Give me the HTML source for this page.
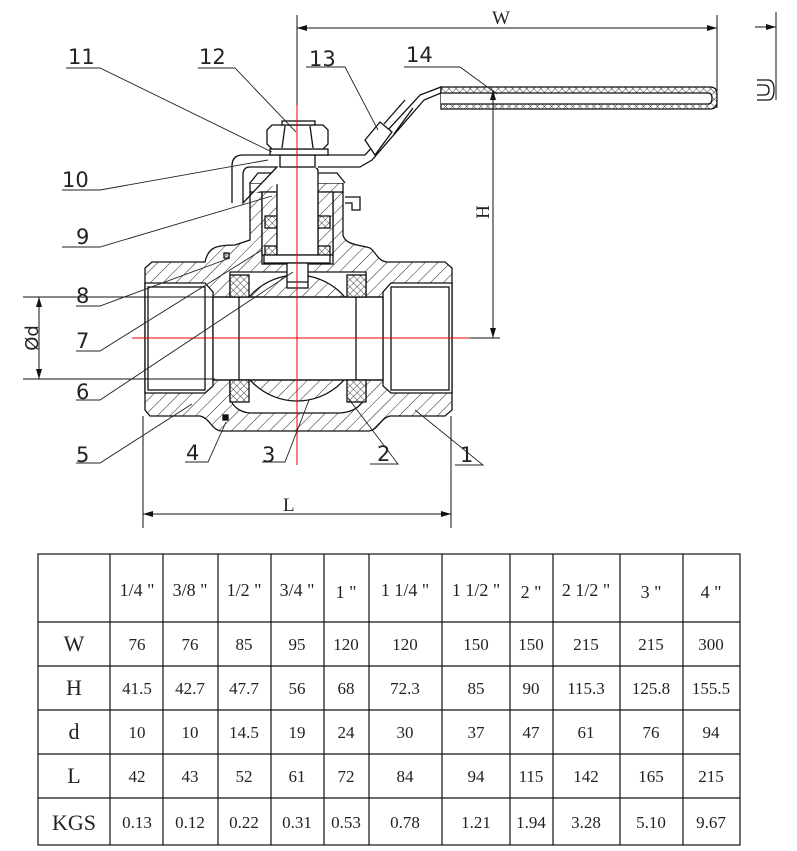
<!DOCTYPE html>
<html><head><meta charset="utf-8"><style>
html,body{margin:0;padding:0;background:#fff;}
svg{display:block;}
.l{font-family:"DejaVu Sans","Liberation Sans",sans-serif;font-size:21px;fill:#222;}
.t{font-family:"Liberation Serif",serif;font-size:17px;fill:#222;}
</style></head><body>
<svg width="797" height="851" viewBox="0 0 797 851" xmlns="http://www.w3.org/2000/svg">
<defs>
<pattern id="h" patternUnits="userSpaceOnUse" width="9" height="9" patternTransform="rotate(45)">
<rect width="9" height="9" fill="#fff"/><line x1="0" y1="0" x2="0" y2="9" stroke="#222" stroke-width="1"/></pattern>
<pattern id="x" patternUnits="userSpaceOnUse" width="5" height="5" patternTransform="rotate(45)">
<rect width="5" height="5" fill="#fff"/><line x1="0" y1="0" x2="0" y2="5" stroke="#111" stroke-width="0.8"/><line x1="0" y1="0" x2="5" y2="0" stroke="#111" stroke-width="0.8"/></pattern>
<clipPath id="ballc"><rect x="239" y="250" width="117" height="160"/></clipPath>
</defs>
<g stroke="#111" stroke-width="1.3" fill="none">
<path d="M145,268 L152,262 L205,262 C208,248 215,245 235,245 L250,240 L250,192 L343,192 L343,235 C345,245 360,245 370,248 C376,252 378,262 388,262 L445,262 L452,268 L452,410 L445,416 L390,416 C380,418 378,431 368,431 L222,431 C212,431 210,418 200,416 L150,416 L145,410 Z" fill="url(#h)"/>
<path d="M145,283 L205,283 L213,292 L213,386 L205,393 L145,393 Z" fill="#fff"/>
<rect x="148" y="287" width="57" height="103"/>
<path d="M452,283 L391,283 L383,292 L383,386 L391,393 L452,393 Z" fill="#fff"/>
<rect x="391" y="287" width="58" height="103"/>
<path d="M230,272 L366,272 L366,398 C360,405 356,412 340,413 L250,413 C238,412 232,405 230,398 Z" fill="#fff"/>
<circle cx="297" cy="338" r="63" fill="url(#h)" clip-path="url(#ballc)"/>
<rect x="213" y="297" width="170" height="83" fill="#fff"/>
<line x1="239" y1="297" x2="239" y2="380"/><line x1="356" y1="297" x2="356" y2="380"/>
<line x1="213" y1="297" x2="383" y2="297"/><line x1="213" y1="380" x2="383" y2="380"/>
<rect x="230" y="275" width="19" height="22" fill="url(#x)"/>
<rect x="347" y="275" width="19" height="22" fill="url(#x)"/>
<rect x="230" y="380" width="19" height="22" fill="url(#x)"/>
<rect x="347" y="380" width="19" height="22" fill="url(#x)"/>
<rect x="223" y="415" width="5" height="5" fill="#111"/>
<rect x="224" y="253" width="5" height="5" fill="url(#x)"/>
<rect x="262" y="192" width="71" height="72" fill="#fff"/>
<path d="M250,183 L343,183 L343,192 L250,192 Z" fill="url(#h)"/>
<path d="M262,192 L277,192 L277,255 L262,255 Z M318,192 L333,192 L333,255 L318,255 Z" fill="url(#h)"/>
<rect x="265" y="216" width="12" height="12" fill="url(#x)"/><rect x="318" y="216" width="12" height="12" fill="url(#x)"/>
<rect x="265" y="246" width="12" height="9" fill="url(#x)"/><rect x="318" y="246" width="12" height="9" fill="url(#x)"/>
<path d="M250,183 L258,173 L337,173 L345,183" fill="#fff"/>
<path d="M277,255 L277,172 Q277,167 282,167 L313,167 Q318,167 318,172 L318,255 Z" fill="#fff"/>
<rect x="264" y="255" width="66" height="8" fill="#fff"/>
<rect x="287" y="263" width="21" height="25" fill="#fff"/>
<line x1="287" y1="282" x2="308" y2="282"/>
<path d="M232,203 L232,166 Q232,155 243,155 L365,155 L420,95 L441,87 L441,93 L424,100 L372,160 L360,167 L318,167 M277,167 L250,167 Q243,167 243,175 L243,203 Z" fill="#fff"/>
<rect x="280" y="155" width="35" height="12" fill="#fff"/>
<path d="M345,197 L360,197 L360,210 L352,210 L352,203 L345,203" />
<path d="M365,140 L380,122 L392,132 L375,155 Z" fill="#fff"/>
<path d="M384,124 L405,100 M394,134 L413,108"/>
<rect x="270" y="149" width="58" height="6" fill="#fff"/>
<path d="M267,130 L272,125 L323,125 L328,130 L328,144 L323,149 L272,149 L267,144 Z" fill="#fff"/>
<line x1="285" y1="126" x2="282" y2="148"/><line x1="310" y1="126" x2="313" y2="148"/>
<rect x="282" y="121" width="33" height="4" fill="#fff"/>
<path d="M441,87 L710,87 Q717,87 717,94 L717,102 Q717,109 710,109 L441,109 Z" fill="url(#x)"/>
<path d="M441,93 L708,93 Q712,93 712,98 Q712,104 708,104 L441,104" fill="#fff"/>
<path d="M757,80 L768,80 Q774,80 774,90 Q774,100 768,100 L757,100 M757,85 L764,85 Q769,85 769,90 Q769,95 764,95 L757,95"/>
</g>
<line x1="297" y1="105" x2="297" y2="465" stroke="#e00" stroke-width="1"/>
<line x1="132" y1="338" x2="470" y2="338" stroke="#e00" stroke-width="1"/>
<g stroke="#111" stroke-width="1" fill="none">
<line x1="297" y1="15" x2="297" y2="105"/>
<line x1="717" y1="15" x2="717" y2="108"/>
<line x1="297" y1="28" x2="717" y2="28"/>
<line x1="776" y1="12" x2="776" y2="100"/>
<line x1="755" y1="27" x2="776" y2="27"/>
<line x1="493" y1="90" x2="493" y2="338"/>
<line x1="470" y1="338" x2="500" y2="338"/>
<line x1="23" y1="297" x2="215" y2="297"/>
<line x1="23" y1="379" x2="215" y2="379"/>
<line x1="39" y1="297" x2="39" y2="379"/>
<line x1="143" y1="416" x2="143" y2="528"/>
<line x1="451" y1="416" x2="451" y2="528"/>
<line x1="143" y1="514" x2="451" y2="514"/>
</g>
<g fill="#111">
<path d="M297,28 l10,-3 v6z M717,28 l-10,-3 v6z M776,27 l-10,-3 v6z M493,90 l-3,10 h6z M493,338 l-3,-10 h6z M39,297 l-3,10 h6z M39,379 l-3,-10 h6z M143,514 l10,-3 v6z M451,514 l-10,-3 v6z"/>
</g>
<g class="t" style="font-size:19px">
<text x="492" y="24">W</text>
<text x="283" y="511">L</text>
<text transform="translate(489,212) rotate(-90)" text-anchor="middle">H</text>
<text transform="translate(38,338) rotate(-90)" text-anchor="middle" style="font-family:'DejaVu Sans',sans-serif;font-size:18px">Ød</text>
</g>
<g stroke="#222" stroke-width="0.9" fill="none">
<path d="M66,68 H100 L272,152"/><path d="M198,68 H235 L296,132"/><path d="M306,67 H345 L378,130"/><path d="M404,67 H460 L497,94"/>
<path d="M62,190 H100 L268,160"/><path d="M62,247 H100 L272,196"/><path d="M76,306 H100 L230,258"/><path d="M76,351 H100 L262,250"/>
<path d="M76,400 H100 L293,272"/><path d="M76,463 H100 L192,404"/><path d="M185,462 H208 L226,422"/><path d="M262,462 H285 L309,400"/>
<path d="M370,464 H398 L348,398"/><path d="M455,465 H483 L415,410"/>
</g>
<g class="l">
<text x="68" y="64">11</text><text x="199" y="64">12</text><text x="309" y="66">13</text><text x="406" y="62">14</text>
<text x="62" y="187">10</text><text x="76" y="244">9</text><text x="76" y="303">8</text><text x="76" y="348">7</text>
<text x="76" y="399">6</text><text x="76" y="462">5</text><text x="186" y="460">4</text><text x="262" y="462">3</text>
<text x="377" y="461">2</text><text x="460" y="462">1</text>
</g>
<g stroke="#111" stroke-width="1.2" fill="none">
<rect x="38" y="554" width="702" height="291"/>
<line x1="38" y1="622" x2="740" y2="622"/><line x1="38" y1="666" x2="740" y2="666"/><line x1="38" y1="710" x2="740" y2="710"/><line x1="38" y1="754" x2="740" y2="754"/><line x1="38" y1="798" x2="740" y2="798"/>
<line x1="110" y1="554" x2="110" y2="845"/><line x1="163" y1="554" x2="163" y2="845"/><line x1="218" y1="554" x2="218" y2="845"/><line x1="271" y1="554" x2="271" y2="845"/><line x1="324" y1="554" x2="324" y2="845"/><line x1="369" y1="554" x2="369" y2="845"/><line x1="442" y1="554" x2="442" y2="845"/><line x1="510" y1="554" x2="510" y2="845"/><line x1="553" y1="554" x2="553" y2="845"/><line x1="620" y1="554" x2="620" y2="845"/><line x1="683" y1="554" x2="683" y2="845"/>
</g>
<g class="t" text-anchor="middle">
<g style="font-size:18px"><text x="137" y="596">1/4 "</text><text x="190" y="596">3/8 "</text><text x="244" y="596">1/2 "</text><text x="297" y="596">3/4 "</text><text x="346" y="598">1 "</text><text x="405" y="596">1 1/4 "</text><text x="476" y="596">1 1/2 "</text><text x="531" y="598">2 "</text><text x="586" y="596">2 1/2 "</text><text x="651" y="598">3 "</text><text x="711" y="598">4 "</text></g>
<g style="font-size:22px"><text x="74" y="651">W</text><text x="74" y="695">H</text><text x="74" y="739">d</text><text x="74" y="783">L</text><text x="74" y="830">KGS</text></g>
<text x="137" y="650">76</text><text x="190" y="650">76</text><text x="244" y="650">85</text><text x="297" y="650">95</text><text x="346" y="650">120</text><text x="405" y="650">120</text><text x="476" y="650">150</text><text x="531" y="650">150</text><text x="586" y="650">215</text><text x="651" y="650">215</text><text x="711" y="650">300</text>
<text x="137" y="694">41.5</text><text x="190" y="694">42.7</text><text x="244" y="694">47.7</text><text x="297" y="694">56</text><text x="346" y="694">68</text><text x="405" y="694">72.3</text><text x="476" y="694">85</text><text x="531" y="694">90</text><text x="586" y="694">115.3</text><text x="651" y="694">125.8</text><text x="711" y="694">155.5</text>
<text x="137" y="738">10</text><text x="190" y="738">10</text><text x="244" y="738">14.5</text><text x="297" y="738">19</text><text x="346" y="738">24</text><text x="405" y="738">30</text><text x="476" y="738">37</text><text x="531" y="738">47</text><text x="586" y="738">61</text><text x="651" y="738">76</text><text x="711" y="738">94</text>
<text x="137" y="782">42</text><text x="190" y="782">43</text><text x="244" y="782">52</text><text x="297" y="782">61</text><text x="346" y="782">72</text><text x="405" y="782">84</text><text x="476" y="782">94</text><text x="531" y="782">115</text><text x="586" y="782">142</text><text x="651" y="782">165</text><text x="711" y="782">215</text>
<text x="137" y="828">0.13</text><text x="190" y="828">0.12</text><text x="244" y="828">0.22</text><text x="297" y="828">0.31</text><text x="346" y="828">0.53</text><text x="405" y="828">0.78</text><text x="476" y="828">1.21</text><text x="531" y="828">1.94</text><text x="586" y="828">3.28</text><text x="651" y="828">5.10</text><text x="711" y="828">9.67</text>
</g>
</svg>
</body></html>
